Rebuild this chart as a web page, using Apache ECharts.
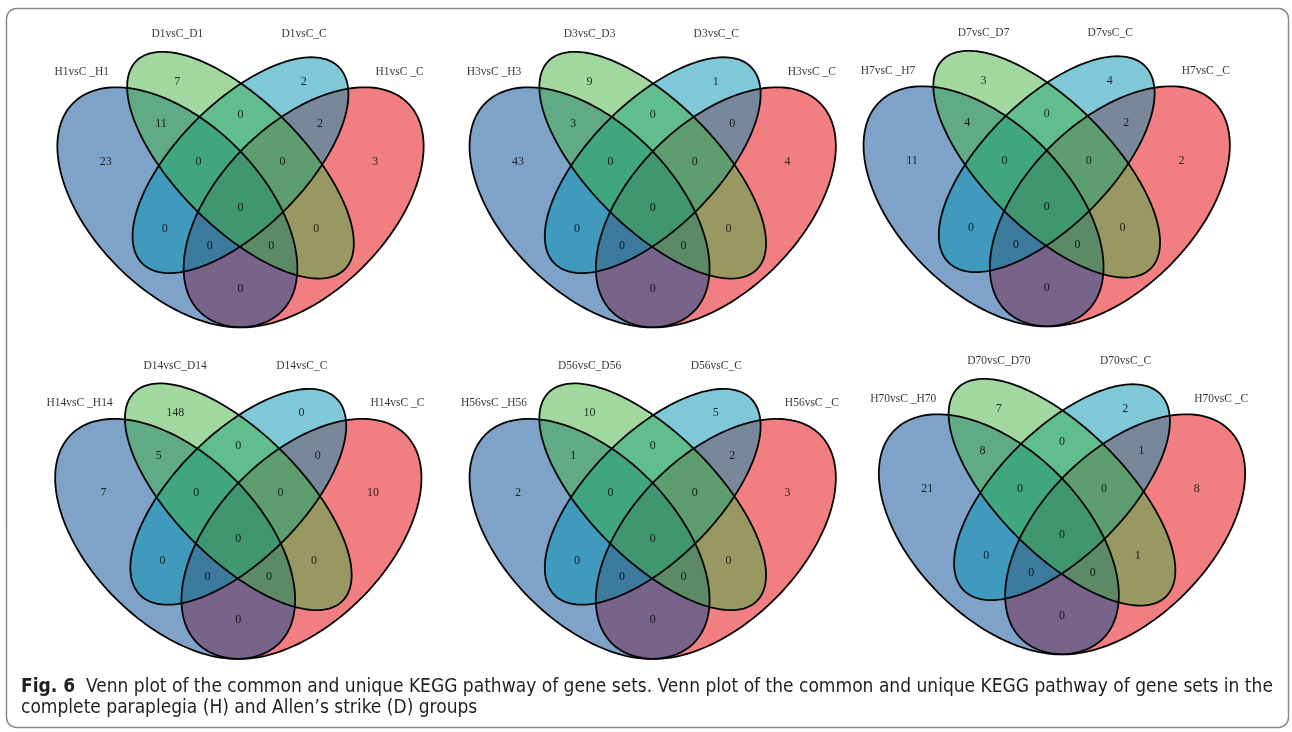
<!DOCTYPE html>
<html>
<head>
<meta charset="utf-8">
<script src="https://cdn.jsdelivr.net/npm/echarts@6/dist/echarts.min.js"></script>
<style>
  html, body { margin: 0; padding: 0; background: #ffffff; }
  #main { width: 1292px; height: 732px; }
</style>
</head>
<body>
<div id="main"></div>
<script>
// Set names of each panel, in the order: H vs C (H side), D vs C (D side), D vs C (C side), H vs C (C side)
const setsDay1  = ['H1vsC _H1', 'D1vsC_D1', 'D1vsC_C', 'H1vsC _C'];
const setsDay3  = ['H3vsC _H3', 'D3vsC_D3', 'D3vsC_C', 'H3vsC _C'];
const setsDay7  = ['H7vsC _H7', 'D7vsC_D7', 'D7vsC_C', 'H7vsC _C'];
const setsDay14 = ['H14vsC _H14', 'D14vsC_D14', 'D14vsC_C', 'H14vsC _C'];
const setsDay56 = ['H56vsC _H56', 'D56vsC_D56', 'D56vsC_C', 'H56vsC _C'];
const setsDay70 = ['H70vsC _H70', 'D70vsC_D70', 'D70vsC_C', 'H70vsC _C'];

// Region counts (A = H_H, B = D_D, C = D_C, E = H_C), in the order:
// A, B, C, E, AB, BC, CE, ABC, BCE, ABCE, AC, BE, ACE, ABE, AE
const countsDay1  = [23, 7, 2, 3, 11, 0, 2, 0, 0, 0, 0, 0, 0, 0, 0];
const countsDay3  = [43, 9, 1, 4, 3, 0, 0, 0, 0, 0, 0, 0, 0, 0, 0];
const countsDay7  = [11, 3, 4, 2, 4, 0, 2, 0, 0, 0, 0, 0, 0, 0, 0];
const countsDay14 = [7, 148, 0, 10, 5, 0, 0, 0, 0, 0, 0, 0, 0, 0, 0];
const countsDay56 = [2, 10, 5, 3, 1, 0, 2, 0, 0, 0, 0, 0, 0, 0, 0];
const countsDay70 = [21, 7, 2, 8, 8, 0, 1, 0, 0, 0, 0, 1, 0, 0, 0];

const panelSets   = [setsDay1, setsDay3, setsDay7, setsDay14, setsDay56, setsDay70];
const panelCounts = [countsDay1, countsDay3, countsDay7, countsDay14, countsDay56, countsDay70];

// ---- layout (unit square of the four-ellipse Venn) ----
// ellipses in drawing order: E (red), A (blue), C (cyan), B (green)
const ellipses = [
  { cx: 0.65, cy: 0.47, a: 0.35, b: 0.20, rot: 45,  color: 'rgba(228,0,5,0.5)' },
  { cx: 0.35, cy: 0.47, a: 0.35, b: 0.20, rot: 135, color: 'rgba(0,72,145,0.5)' },
  { cx: 0.50, cy: 0.57, a: 0.33, b: 0.15, rot: 45,  color: 'rgba(0,145,178,0.5)' },
  { cx: 0.50, cy: 0.57, a: 0.35, b: 0.15, rot: 135, color: 'rgba(65,178,65,0.5)' }
];
// label anchor for each region, same order as the counts
const regionPos = [
  [0.180, 0.579], [0.350, 0.769], [0.650, 0.769], [0.820, 0.579],
  [0.311, 0.668], [0.500, 0.690], [0.689, 0.668],
  [0.400, 0.579], [0.600, 0.579], [0.500, 0.469],
  [0.320, 0.418], [0.680, 0.418],
  [0.427, 0.379], [0.573, 0.379], [0.500, 0.277]
];
// anchor of each set name: A, B, C, E
const setNamePos = [[0.123, 0.792], [0.350, 0.881], [0.651, 0.881], [0.878, 0.792]];

// pixel centre of each panel (where unit point (0.5, 0.469) lands) and pixels per unit
const panelCentres = [[240.5, 207.7], [652.7, 207.7], [1046.7, 206.7], [238.3, 539.3], [652.7, 539.3], [1062, 534.7]];
const UNIT = 421;
const X_MIN = 0.04, X_MAX = 0.96, Y_MIN = 0.15, Y_MAX = 0.93;

function ellipsePoints(e, api) {
  const pts = [];
  const th = e.rot * Math.PI / 180;
  const n = 160;
  for (let i = 0; i < n; i++) {
    const t = i / n * Math.PI * 2;
    const x = e.cx + e.a * Math.cos(t) * Math.cos(th) - e.b * Math.sin(t) * Math.sin(th);
    const y = e.cy + e.a * Math.cos(t) * Math.sin(th) + e.b * Math.sin(t) * Math.cos(th);
    pts.push(api.coord([x, y]));
  }
  return pts;
}

const grids = [], xAxes = [], yAxes = [], series = [];
const serif = '"Liberation Serif", "DejaVu Serif", serif';

panelCentres.forEach(([cx, cy], p) => {
  grids.push({
    left: cx + (X_MIN - 0.5) * UNIT,
    top: cy - (Y_MAX - 0.469) * UNIT,
    width: (X_MAX - X_MIN) * UNIT,
    height: (Y_MAX - Y_MIN) * UNIT
  });
  xAxes.push({ gridIndex: p, type: 'value', min: X_MIN, max: X_MAX, show: false });
  yAxes.push({ gridIndex: p, type: 'value', min: Y_MIN, max: Y_MAX, show: false });

  // translucent set fills
  series.push({
    type: 'custom', xAxisIndex: p, yAxisIndex: p, silent: true, z: 2,
    data: ellipses.map((e, i) => [i]),
    renderItem: (params, api) => {
      const e = ellipses[api.value(0)];
      return { type: 'polygon', shape: { points: ellipsePoints(e, api) },
               style: { fill: e.color, stroke: 'none' } };
    }
  });
  // set outlines
  series.push({
    type: 'custom', xAxisIndex: p, yAxisIndex: p, silent: true, z: 3,
    data: ellipses.map((e, i) => [i]),
    renderItem: (params, api) => {
      const e = ellipses[api.value(0)];
      return { type: 'polygon', shape: { points: ellipsePoints(e, api) },
               style: { fill: 'none', stroke: '#050505', lineWidth: 1.8 } };
    }
  });
  // region counts
  series.push({
    type: 'scatter', xAxisIndex: p, yAxisIndex: p, silent: true, z: 4,
    symbolSize: 0,
    data: regionPos.map((pos, i) => [pos[0], pos[1], panelCounts[p][i]]),
    label: {
      show: true, position: 'inside', formatter: (d) => String(d.value[2]),
      color: '#000000', fontFamily: serif, fontSize: 12
    }
  });
  // set names
  series.push({
    type: 'scatter', xAxisIndex: p, yAxisIndex: p, silent: true, z: 4,
    symbolSize: 0,
    data: setNamePos.map((pos, i) => ({ value: [pos[0], pos[1]], name: panelSets[p][i] })),
    label: {
      show: true, position: 'inside', formatter: (d) => d.name,
      color: '#000000', fontFamily: serif, fontSize: 11.5
    }
  });
});

const capFont = '"Liberation Sans Narrow", "DejaVu Sans Condensed", "Liberation Sans", sans-serif';

const chart = echarts.init(document.getElementById('main'), null, { renderer: 'canvas' });
chart.setOption({
  backgroundColor: '#ffffff',
  animation: false,
  grid: grids,
  xAxis: xAxes,
  yAxis: yAxes,
  series: series,
  graphic: [
    {
      type: 'rect', z: 0, silent: true,
      shape: { x: 6.5, y: 8.5, width: 1282, height: 719, r: 10 },
      style: { fill: 'none', stroke: '#8a8a8a', lineWidth: 1.5 }
    },
    {
      type: 'text', z: 5, silent: true, x: 21, y: 687,
      style: {
        text: '{b|Fig. 6}  Venn plot of the common and unique KEGG pathway of gene sets. Venn plot of the common and unique KEGG pathway of gene sets in the',
        fontFamily: capFont, fontSize: 19, fill: '#231f20', verticalAlign: 'middle',
        rich: { b: { fontFamily: capFont, fontSize: 19, fontWeight: 'bold', fill: '#231f20' } }
      }
    },
    {
      type: 'text', z: 5, silent: true, x: 21, y: 708,
      style: {
        text: 'complete paraplegia (H) and Allen\u2019s strike (D) groups',
        fontFamily: capFont, fontSize: 19, fill: '#231f20', verticalAlign: 'middle'
      }
    }
  ]
});
</script>
</body>
</html>
